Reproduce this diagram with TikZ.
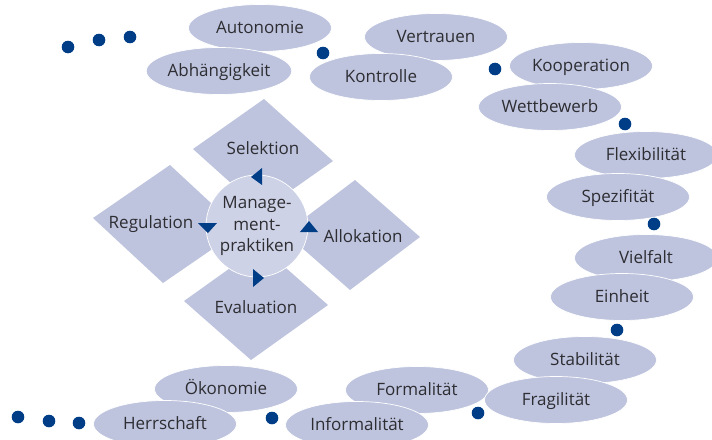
\documentclass[tikz,border=0pt]{standalone}
\usepackage{fontspec}
\setmainfont{Open Sans}
\usetikzlibrary{shapes.geometric}
\definecolor{ell}{RGB}{190,196,222}
\definecolor{circ}{RGB}{206,210,231}
\definecolor{dotc}{RGB}{0,61,135}
\definecolor{txt}{RGB}{45,45,50}
\begin{document}
\begin{tikzpicture}[x=1pt,y=-1pt,
  oval/.style={ellipse, fill=ell, draw=white, line width=0.7pt, minimum width=143pt, minimum height=47pt, inner sep=0pt, text=txt, font=\fontsize{17}{20}\selectfont, text height=13pt, text depth=1.5pt},
  bead/.style={circle, fill=dotc, minimum size=12.6pt, inner sep=0pt},
  lbl/.style={text=txt, font=\fontsize{17}{20}\selectfont, inner sep=0pt, text height=13pt, text depth=1.5pt},
  dia/.style={fill=ell},
  tri/.style={fill=dotc}]
\useasboundingbox (0,0) rectangle (712,439);
\clip (0,0) rectangle (712,439);

% ellipses
\node[oval] (autonomie) at (260,28) {Autonomie};
\node[oval] (abh) at (219,71) {Abhängigkeit};
\node[oval] (vertrauen) at (436,37) {Vertrauen};
\node[oval] (kontrolle) at (381,77) {Kontrolle};
\node[oval] (koop) at (581,66) {Kooperation};
\node[oval] (wett) at (550,107) {Wettbewerb};
\node[oval] (flex) at (646,155) {Flexibilität};
\node[oval] (spez) at (618,197) {Spezifität};
\node[oval] (vielfalt) at (646,258) {Vielfalt};
\node[oval] (einheit) at (622,297) {Einheit};
\node[oval] (stab) at (585,360) {Stabilität};
\node[oval] (formal) at (417,390) {Formalität};
\node[oval] (fragil) at (556,400) {Fragilität};
\node[oval] (informal) at (357,425) {Informalität};
\node[oval] (oekon) at (226,389) {Ökonomie};
\node[oval] (herr) at (165,424) {Herrschaft};

% dots
\node[bead] (d1) at (68,47) {};
\node[bead] (d2) at (99,40) {};
\node[bead] (d3) at (130,37) {};
\node[bead] (d4) at (323,53) {};
\node[bead] (d5) at (495,69) {};
\node[bead] (d6) at (625,124) {};
\node[bead] (d7) at (654,224) {};
\node[bead] (d8) at (617,330) {};
\node[bead] (d9) at (478,413) {};
\node[bead] (d10) at (272,418) {};
\node[bead] (d11) at (18,417) {};
\node[bead] (d12) at (49,421) {};
\node[bead] (d13) at (79,423) {};

% diamonds
\fill[dia] (264,99) -- (333,161) -- (262,211) -- (193,149) -- cycle;
\fill[dia] (93,218) -- (170,165) -- (240,230) -- (163,283) -- cycle;
\fill[dia] (355,180) -- (420,237) -- (350,290) -- (285,233) -- cycle;
\fill[dia] (261,246) -- (328,305) -- (251,360) -- (184,301) -- cycle;

\node[lbl] (selektion) at (263,149) {Selektion};
\node[lbl] (regulation) at (151,223) {Regulation};
\node[lbl] (allokation) at (363,237) {Allokation};
\node[lbl] (evaluation) at (256,308) {Evaluation};

% centre
\node[circle, fill=circ, draw=white, line width=0.7pt, minimum size=102pt, inner sep=0pt,
  align=center, text=txt, font=\fontsize{17}{21.5}\selectfont] (mgmt) at (257,226) {Manage-\\ment-\\praktiken};

% triangles
\fill[tri] (251,177) -- (262,168) -- (262,185) -- cycle;
\fill[tri] (198,223) -- (217,223) -- (208,233) -- cycle;
\fill[tri] (300,232) -- (318,232) -- (309,221) -- cycle;
\fill[tri] (253,269) -- (253,287) -- (264,278) -- cycle;
\end{tikzpicture}
\end{document}
